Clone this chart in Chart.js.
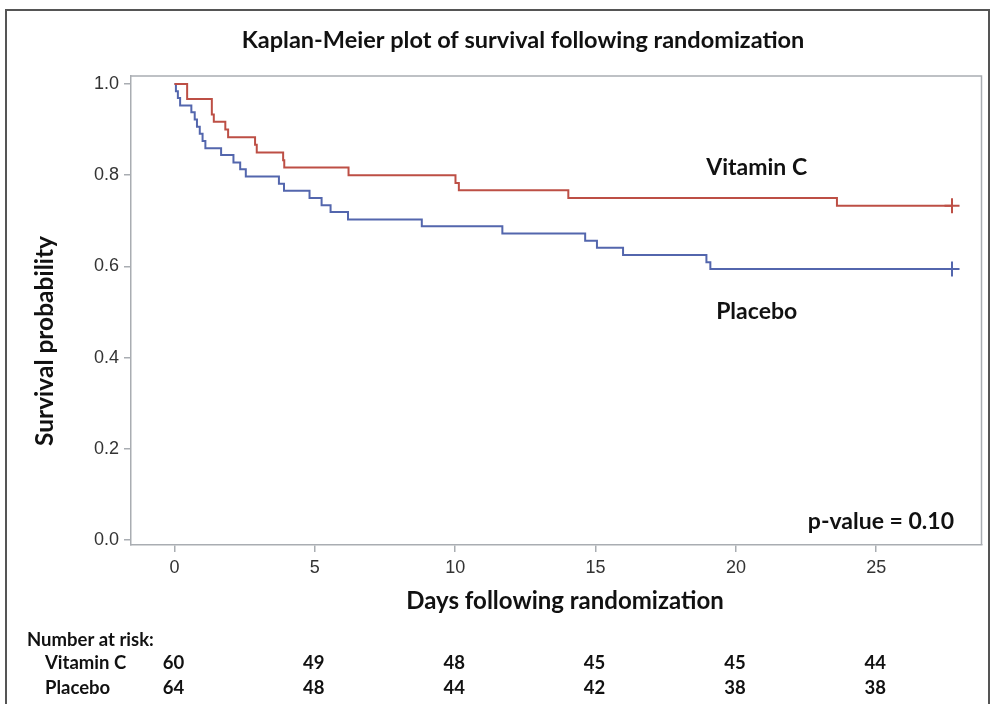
<!DOCTYPE html>
<html>
<head>
<meta charset="utf-8">
<title>Kaplan-Meier plot of survival following randomization</title>
<script src="https://cdn.jsdelivr.net/npm/chart.js@4.4.1/dist/chart.umd.min.js"></script>
<style>
  html, body { margin: 0; padding: 0; background: #fff; }
  canvas { display: block; }
</style>
</head>
<body>
<canvas id="kmChart" width="991" height="704"></canvas>
<script>
// Step times (days) and survival estimates
const vitaminCDays = [0, 0.45, 1.33, 1.4, 1.81, 1.91, 2.87, 2.93, 3.87, 3.91, 6.2, 10.01, 10.13, 14.03, 23.6, 27.7];
const vitaminCSurvival = [1, 0.967, 0.933, 0.917, 0.9, 0.883, 0.867, 0.85, 0.833, 0.817, 0.8, 0.783, 0.767, 0.75, 0.733, 0.733];

const placeboDays = [0, 0.05, 0.12, 0.2, 0.6, 0.72, 0.8, 0.9, 1.0, 1.1, 1.66, 2.1, 2.34, 2.54, 3.72, 3.9,
  4.81, 5.24, 5.56, 6.18, 8.81, 11.68, 14.63, 15.05, 15.98, 18.95, 19.09, 27.7];
const placeboSurvival = [1, 0.984, 0.969, 0.953, 0.938, 0.922, 0.906, 0.891, 0.875, 0.859, 0.844, 0.828, 0.813, 0.797, 0.781, 0.766,
  0.75, 0.734, 0.719, 0.703, 0.688, 0.672, 0.656, 0.641, 0.625, 0.609, 0.594, 0.594];

const xTickValues = [0, 5, 10, 15, 20, 25];
const yTickValues = [0, 0.2, 0.4, 0.6, 0.8, 1.0];

const riskDays = [0, 5, 10, 15, 20, 25];
const vitaminCAtRisk = [60, 49, 48, 45, 45, 44];
const placeboAtRisk = [64, 48, 44, 42, 38, 38];

const groupNames = ['Vitamin C', 'Placebo'];
const pValueText = 'p-value = 0.10';
const titleText = 'Kaplan-Meier plot of survival following randomization';

const redLine = '#bd4f45';
const blueLine = '#5366ad';
const axisGrey = '#a9adb2';
const textDark = '#111111';
const boldFont = 'Lato, "Open Sans", sans-serif';
const tickFont = '"Liberation Sans", Arial, sans-serif';

function toPoints(days, values) {
  return days.map((day, i) => ({ x: day, y: values[i] }));
}

function censorRadius(ctx) {
  return ctx.dataIndex === ctx.dataset.data.length - 1 ? 7.5 : 0;
}

const decorations = {
  id: 'decorations',
  beforeDraw(chart) {
    const { ctx } = chart;
    ctx.save();
    ctx.fillStyle = '#fff';
    ctx.fillRect(0, 0, chart.width, chart.height);
    ctx.strokeStyle = '#555';
    ctx.lineWidth = 2;
    ctx.strokeRect(6, 10, 983, 720);
    ctx.restore();
  },
  afterDraw(chart) {
    const { ctx, chartArea, scales } = chart;
    const { x, y } = scales;
    ctx.save();

    // top and right edges of the plot frame
    ctx.strokeStyle = axisGrey;
    ctx.lineWidth = 1.5;
    ctx.beginPath();
    ctx.moveTo(chartArea.left, chartArea.top);
    ctx.lineTo(chartArea.right, chartArea.top);
    ctx.lineTo(chartArea.right, chartArea.bottom);
    ctx.stroke();

    ctx.fillStyle = textDark;
    ctx.textBaseline = 'middle';

    // title
    ctx.textAlign = 'center';
    ctx.font = `bold 23.5px ${boldFont}`;
    ctx.fillText(titleText, 523, 40);

    // y axis title
    ctx.save();
    ctx.translate(45, 341);
    ctx.rotate(-Math.PI / 2);
    ctx.font = `bold 24.5px ${boldFont}`;
    ctx.fillText('Survival probability', 0, 0);
    ctx.restore();

    // x axis title
    ctx.font = `bold 24px ${boldFont}`;
    ctx.fillText('Days following randomization', 565, 601);

    // group labels and p-value inside the plot
    ctx.font = `bold 23px ${boldFont}`;
    ctx.fillText(groupNames[0], x.getPixelForValue(20.74), y.getPixelForValue(0.816));
    ctx.fillText(groupNames[1], x.getPixelForValue(20.74), y.getPixelForValue(0.5));
    ctx.textAlign = 'right';
    ctx.fillText(pValueText, x.getPixelForValue(27.77), y.getPixelForValue(0.04));

    // number at risk table
    ctx.font = `bold 18.5px ${boldFont}`;
    ctx.textAlign = 'left';
    ctx.fillText('Number at risk:', 27, 640);
    ctx.fillText(groupNames[0], 45, 663);
    ctx.fillText(groupNames[1], 45, 688);
    ctx.textAlign = 'center';
    riskDays.forEach((day, i) => {
      const px = x.getPixelForValue(day) - 1;
      ctx.fillText(String(vitaminCAtRisk[i]), px, 663);
      ctx.fillText(String(placeboAtRisk[i]), px, 688);
    });

    ctx.restore();
  },
};

const kmChart = new Chart(document.getElementById('kmChart'), {
  type: 'line',
  data: {
    datasets: [
      {
        label: groupNames[0],
        data: toPoints(vitaminCDays, vitaminCSurvival),
        stepped: true,
        borderColor: redLine,
        borderWidth: 2,
        fill: false,
        pointStyle: 'cross',
        pointRadius: censorRadius,
        pointBorderColor: redLine,
        pointBorderWidth: 2,
      },
      {
        label: groupNames[1],
        data: toPoints(placeboDays, placeboSurvival),
        stepped: true,
        borderColor: blueLine,
        borderWidth: 2,
        fill: false,
        pointStyle: 'cross',
        pointRadius: censorRadius,
        pointBorderColor: blueLine,
        pointBorderWidth: 2,
      },
    ],
  },
  options: {
    responsive: false,
    animation: false,
    devicePixelRatio: 1,
    layout: {
      padding: { left: 0, right: 5, top: 76, bottom: 0 },
    },
    plugins: {
      legend: { display: false },
      tooltip: { enabled: false },
      title: { display: false },
    },
    scales: {
      x: {
        type: 'linear',
        min: -1.55,
        max: 28.75,
        afterBuildTicks(scale) {
          scale.ticks = xTickValues.map((value) => ({ value }));
        },
        afterFit(scale) {
          scale.height = 159;
        },
        ticks: {
          color: '#333',
          font: { family: tickFont, size: 18 },
          padding: 5,
          callback(value) {
            return String(value);
          },
        },
        grid: {
          drawOnChartArea: false,
          drawTicks: true,
          tickLength: 7,
          color: axisGrey,
          lineWidth: 1.5,
        },
        border: { display: true, color: axisGrey, width: 1.5 },
      },
      y: {
        type: 'linear',
        min: -0.011,
        max: 1.0175,
        afterBuildTicks(scale) {
          scale.ticks = yTickValues.map((value) => ({ value }));
        },
        afterFit(scale) {
          scale.width = 131;
        },
        ticks: {
          color: '#333',
          font: { family: tickFont, size: 18 },
          padding: 5,
          callback(value) {
            return Number(value).toFixed(1);
          },
        },
        grid: {
          drawOnChartArea: false,
          drawTicks: true,
          tickLength: 7,
          color: axisGrey,
          lineWidth: 1.5,
        },
        border: { display: true, color: axisGrey, width: 1.5 },
      },
    },
  },
  plugins: [decorations],
});
</script>
</body>
</html>
